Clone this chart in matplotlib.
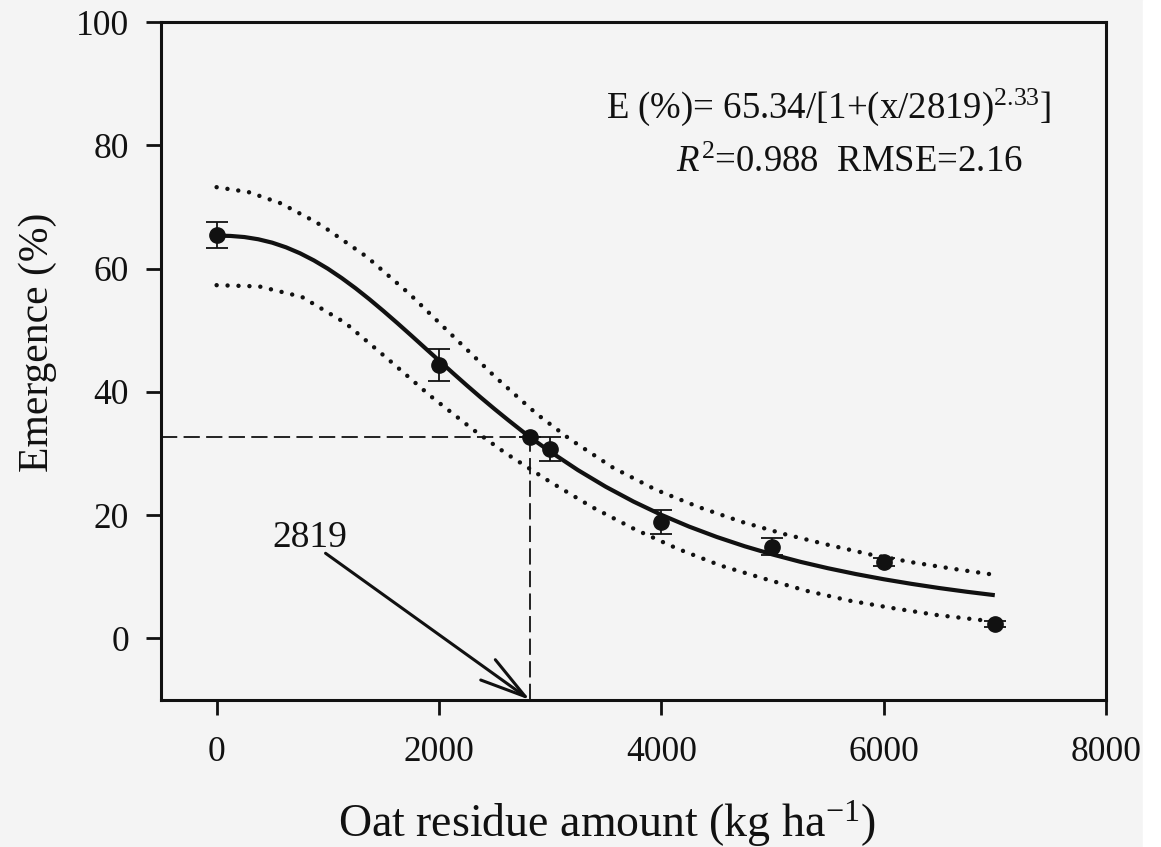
import matplotlib
matplotlib.use("Agg")
import matplotlib.pyplot as plt
from matplotlib.patches import FancyArrowPatch, Rectangle

plt.rcParams['font.family'] = ['Liberation Serif', 'DejaVu Serif']
plt.rcParams['mathtext.fontset'] = 'custom'
plt.rcParams['mathtext.rm'] = 'Liberation Serif'
plt.rcParams['mathtext.it'] = 'Liberation Serif:italic'

# observed data
residue = [0, 2000, 2819, 3000, 4000, 5000, 6000, 7000]
emergence = [65.4, 44.3, 32.7, 30.7, 18.9, 14.9, 12.4, 2.3]
emergence_err = [2.1, 2.6, 0.0, 1.9, 1.9, 1.4, 0.6, 0.5]

# fitted curve E = 65.34/[1+(x/2819)^2.33], tabulated
fit_x = [0, 125, 250, 375, 500, 625, 750, 875, 1000, 1125, 1250, 1375, 1500, 1625,
         1750, 1875, 2000, 2125, 2250, 2375, 2500, 2625, 2750, 2875, 3000, 3250,
         3500, 3750, 4000, 4250, 4500, 4750, 5000, 5250, 5500, 5750, 6000, 6250,
         6500, 6750, 7000]
fit_y = [65.34, 65.29, 65.11, 64.75, 64.20, 63.44, 62.48, 61.32, 59.98, 58.46, 56.80,
         55.01, 53.12, 51.16, 49.15, 47.11, 45.08, 43.05, 41.05, 39.10, 37.21, 35.38,
         33.60, 31.91, 30.30, 27.30, 24.60, 22.19, 20.04, 18.13, 16.44, 14.94, 13.61,
         12.42, 11.37, 10.43, 9.59, 8.84, 8.16, 7.55, 7.00]

# confidence band (dotted)
upper_x = [0, 288, 575, 866, 961, 1351, 1734, 2117, 2501, 2792, 2887, 3179, 3565,
           3952, 4336, 4723, 5110, 5494, 5880, 6268, 6655, 7000]
upper_y = [73.2, 72.4, 70.6, 67.8, 66.8, 61.9, 55.9, 49.2, 42.5, 37.8, 36.3, 32.3,
           27.7, 24.1, 21.3, 18.9, 16.9, 15.2, 13.6, 12.3, 11.2, 10.3]
lower_x = [0, 383, 767, 1156, 1542, 1925, 2312, 2603, 2990, 3377, 3761, 4151, 4535,
           4922, 5309, 5696, 6083, 6471, 6857, 7000]
lower_y = [57.3, 57.1, 55.4, 51.2, 45.3, 39.3, 33.8, 30.0, 25.5, 21.3, 17.7, 14.5,
           11.8, 9.7, 7.7, 6.1, 4.9, 3.8, 3.0, 2.7]

x50 = 2819
e50 = 32.67
xticks = [0, 2000, 4000, 6000, 8000]
yticks = [0, 20, 40, 60, 80, 100]

bg = '#f4f4f4'
ink = '#111111'
fig = plt.figure(figsize=(11.61, 8.47), dpi=100, facecolor=bg)
fig.add_artist(Rectangle((1143 / 1161, 0), 1, 1, transform=fig.transFigure,
                         color='white', zorder=-10))
ax = fig.add_axes([0.1387, 0.1736, 0.9526 - 0.1387, 0.974 - 0.1736])
ax.set_facecolor(bg)
ax.set_xlim(-500, 8000)
ax.set_ylim(-10, 100)

ln_style = dict(color=ink, linewidth=3.2, linestyle=(0, (0.01, 2.45)),
                dash_capstyle='round')
ax.plot(upper_x, upper_y, **ln_style)
ax.plot(lower_x, lower_y, **ln_style)
ax.plot(fit_x, fit_y, color=ink, linewidth=3.0, solid_capstyle='butt',
        solid_joinstyle='round')

ax.plot([-500, x50], [e50, e50], color=ink, linewidth=1.3, dashes=(9, 3.5))
ax.plot([x50, x50], [-10, e50], color=ink, linewidth=1.3, dashes=(9, 3.5))

ax.errorbar(residue, emergence, yerr=emergence_err, fmt='o', color=ink,
            markersize=11, elinewidth=1.3, capsize=8, capthick=1.3, zorder=5)

arrow = FancyArrowPatch((980, 13.8), (x50, -10),
                        arrowstyle='->,head_length=33,head_width=9',
                        mutation_scale=1, color=ink, linewidth=2.2,
                        shrinkA=0, shrinkB=0)
ax.add_patch(arrow)
ax.text(836, 14.9, '2819', fontsize=27, ha='center', va='baseline', color=ink)

ax.text(3507, 84.4, 'E (%)= 65.34/[1+(x/2819)$^{2.33}$]', fontsize=26.5,
        ha='left', va='baseline', color=ink)
ax.text(4128, 75.7, '$\\mathit{R}^{2}$=0.988  RMSE=2.16', fontsize=26.5,
        ha='left', va='baseline', color=ink)

ax.set_xticks(xticks)
ax.set_yticks(yticks)
ax.tick_params(axis='both', direction='out', length=11, width=2, labelsize=25.5,
               color=ink, labelcolor=ink)
ax.tick_params(axis='x', pad=15)
ax.tick_params(axis='y', pad=12)
for s in ax.spines.values():
    s.set_linewidth(2.2)
    s.set_color(ink)

ax.set_xlabel('Oat residue amount (kg ha$^{-1}$)', fontsize=33, color=ink)
ax.set_ylabel('Emergence (%)', fontsize=30, color=ink)
ax.xaxis.set_label_coords(0.472, -0.145)
ax.yaxis.set_label_coords(-0.11, 0.528)

fig.savefig('out.png', dpi=100, facecolor=bg)
